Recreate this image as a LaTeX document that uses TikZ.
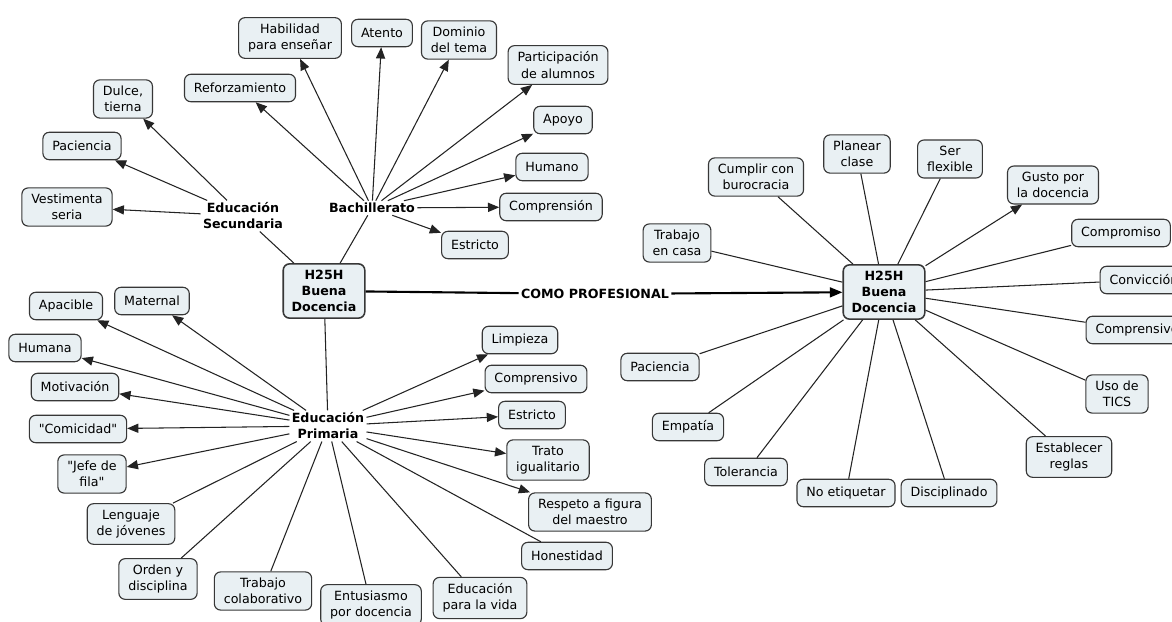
\documentclass[tikz,border=0pt]{standalone}
\usepackage{fontspec}
\setmainfont{DejaVu Sans}[Ligatures=TeXOff]
\usetikzlibrary{arrows.meta}
\definecolor{boxfill}{RGB}{233,240,243}
\definecolor{boxline}{RGB}{55,55,55}
\definecolor{linkcol}{RGB}{35,35,35}
\tikzset{
  concept/.style={draw=boxline, line width=0.8pt, fill=boxfill, rounded corners=4.5pt,
    align=center, inner xsep=6.7pt, inner ysep=4.3pt, minimum height=19.5pt,
    font=\fontsize{9}{11.6}\selectfont},
  hubbox/.style={concept, line width=1.1pt, font=\fontsize{9}{11.6}\selectfont\bfseries, inner xsep=6pt},
  tag/.style={align=center, inner sep=1.5pt, font=\fontsize{9}{11.4}\selectfont\bfseries},
  link/.style={draw=linkcol, line width=0.75pt},
  arrowlink/.style={link, -{Triangle[length=8pt,width=6.5pt]}},
  mainlink/.style={draw=black, line width=1.5pt},
}
\begin{document}
\begin{tikzpicture}[x=0.025cm, y=-0.025cm]
\useasboundingbox (0,0) rectangle (1172,622);
\clip (0,0) rectangle (1172,622);
\fill[white] (0,0) rectangle (1172,622);

% central concepts
\node[hubbox] (hub) at (324,291) {H25H\\Buena\\Docencia};
\node[hubbox] (hubR) at (884,292) {H25H\\Buena\\Docencia};

% linking phrases
\node[tag] (sec) at (243,216) {Educación\\Secundaria};
\node[tag] (bach) at (372,208) {Bachillerato};
\node[tag] (prim) at (328,426) {Educación\\Primaria};
\node[tag] (prof) at (595,294) {COMO PROFESIONAL};

% secundaria
\node[concept] (dulce) at (123,99) {Dulce,\\tierna};
\node[concept] (pacS) at (82,146) {Paciencia};
\node[concept] (vest) at (67,207) {Vestimenta\\seria};

% bachillerato
\node[concept] (refuerzo) at (240,88) {Reforzamiento};
\node[concept] (habil) at (290,38) {Habilidad\\para enseñar};
\node[concept] (atento) at (382,33) {Atento};
\node[concept] (dominio) at (459,40) {Dominio\\del tema};
\node[concept] (partic) at (558,65) {Participación\\de alumnos};
\node[concept] (apoyo) at (563,120) {Apoyo};
\node[concept] (humano) at (552,167) {Humano};
\node[concept] (comprension) at (551,207) {Comprensión};
\node[concept] (estrictoB) at (475,245) {Estricto};

% primaria
\node[concept] (maternal) at (152,301) {Maternal};
\node[concept] (apacible) at (66,306) {Apacible};
\node[concept] (humana) at (45,348) {Humana};
\node[concept] (motiv) at (75,387) {Motivación};
\node[concept] (comic) at (78,429) {"Comicidad"};
\node[concept] (jefe) at (92,474) {"Jefe de\\fila"};
\node[concept] (lenguaje) at (131,524) {Lenguaje\\de jóvenes};
\node[concept] (orden) at (158,579) {Orden y\\disciplina};
\node[concept] (trabCol) at (263,591) {Trabajo\\colaborativo};
\node[concept] (entus) at (371,605) {Entusiasmo\\por docencia};
\node[concept] (eduVida) at (480,598) {Educación\\para la vida};
\node[concept] (honest) at (567,556) {Honestidad};
\node[concept] (respeto) at (590,512) {Respeto a figura\\del maestro};
\node[concept] (trato) at (548,460) {Trato\\igualitario};
\node[concept] (estrictoP) at (532,415) {Estricto};
\node[concept] (comprP) at (536,379) {Comprensivo};
\node[concept] (limpieza) at (520,340) {Limpieza};

% como profesional
\node[concept] (cumplir) at (756,177) {Cumplir con\\burocracia};
\node[concept] (planear) at (857,154) {Planear\\clase};
\node[concept] (flexible) at (950,159) {Ser\\flexible};
\node[concept] (gusto) at (1053,185) {Gusto por\\la docencia};
\node[concept] (trabCasa) at (677,243) {Trabajo\\en casa};
\node[concept] (compromiso) at (1121,233) {Compromiso};
\node[concept] (conviccion) at (1144,280) {Convicción};
\node[concept] (comprR) at (1137,330) {Comprensivo};
\node[concept] (tics) at (1117,394) {Uso de\\TICS};
\node[concept] (reglas) at (1069,457) {Establecer\\reglas};
\node[concept] (discip) at (949,493) {Disciplinado};
\node[concept] (noEtiq) at (846,493) {No etiquetar};
\node[concept] (toler) at (746,472) {Tolerancia};
\node[concept] (empatia) at (688,427) {Empatía};
\node[concept] (pacR) at (660,367) {Paciencia};

% hub to linking phrases
\draw[link] (hub) -- (sec);
\draw[link] (hub) -- (bach);
\draw[link] (hub) -- (prim);
\draw[mainlink] (hub) -- (prof);
\draw[mainlink, -{Triangle[length=9pt,width=7pt]}] (prof) -- (hubR);

% secundaria links
\foreach \t in {dulce, pacS, vest}
  \draw[arrowlink] (sec) -- (\t);

% bachillerato links
\foreach \t in {refuerzo, habil, atento, dominio, partic, apoyo, humano, comprension, estrictoB}
  \draw[arrowlink] (bach) -- (\t);

% primaria links
\foreach \t in {maternal, apacible, humana, motiv, comic, jefe, limpieza, comprP, estrictoP, trato, respeto}
  \draw[arrowlink] (prim) -- (\t);
\foreach \t in {lenguaje, orden, trabCol, entus, eduVida, honest}
  \draw[link] (prim) -- (\t);

% professional profile links
\foreach \t in {cumplir, planear, flexible, trabCasa, compromiso, conviccion, comprR, tics, reglas, discip, noEtiq, toler, empatia, pacR}
  \draw[link] (hubR) -- (\t);
\draw[arrowlink] (hubR) -- (gusto);
\end{tikzpicture}
\end{document}
